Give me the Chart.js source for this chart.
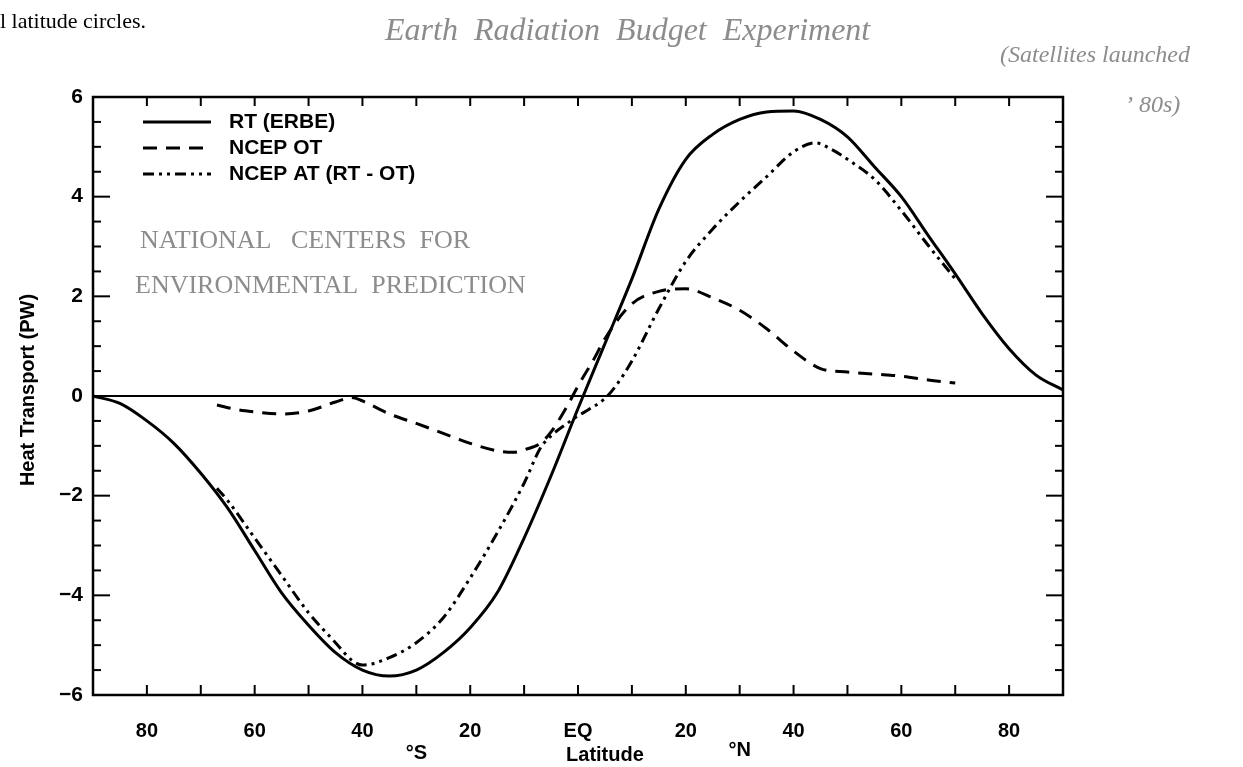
<!DOCTYPE html>
<html>
<head>
<meta charset="utf-8">
<script src="https://cdn.jsdelivr.net/npm/chart.js@4.4.0/dist/chart.umd.min.js"></script>
<style>
  html, body { margin: 0; padding: 0; background: #fff; }
</style>
</head>
<body>
<canvas id="grafica" width="1243" height="767"></canvas>
<script>
// Latitud (grados, S negativo) y transporte de calor (PW)
const latRT = [-90,-85,-80,-75,-70,-65,-60,-55,-50,-45,-40,-35,-30,-25,-20,-15,-10,-5,0,5,10,15,20,25,30,35,40,45,50,55,60,65,70,75,80,85,90];
const valRT = [0.0,-0.15,-0.5,-0.95,-1.55,-2.25,-3.1,-3.95,-4.6,-5.15,-5.5,-5.62,-5.5,-5.15,-4.65,-3.95,-2.85,-1.6,-0.25,1.05,2.35,3.75,4.75,5.25,5.55,5.7,5.72,5.55,5.2,4.6,4.0,3.22,2.45,1.65,0.95,0.42,0.12];

const latOT = [-67,-63,-60,-55,-50,-45,-42,-40,-35,-30,-25,-20,-15,-12,-10,-7,-5,-2,0,3,5,10,15,20,25,30,35,40,45,50,55,60,65,70];
const valOT = [-0.18,-0.28,-0.32,-0.36,-0.3,-0.12,-0.03,-0.1,-0.36,-0.55,-0.75,-0.95,-1.1,-1.13,-1.08,-0.95,-0.72,-0.2,0.2,0.75,1.15,1.85,2.1,2.15,1.97,1.72,1.35,0.9,0.55,0.48,0.44,0.4,0.32,0.26];

const latAT = [-67,-65,-60,-55,-50,-45,-42,-40,-35,-30,-25,-20,-15,-10,-7,-5,-2,0,2,5,7,10,15,20,25,30,35,40,44,47,50,55,60,65,70];
const valAT = [-1.85,-2.1,-2.85,-3.6,-4.35,-4.95,-5.3,-5.4,-5.25,-4.95,-4.45,-3.65,-2.75,-1.75,-1.05,-0.8,-0.55,-0.4,-0.27,-0.05,0.2,0.7,1.75,2.7,3.35,3.9,4.4,4.9,5.08,4.95,4.75,4.35,3.72,3.02,2.35];

const latTicks = [-80,-60,-40,-20,0,20,40,60,80];
const latTickLabels = ['80','60','40','20','EQ','20','40','60','80'];
const yTicks = [-6,-4,-2,0,2,4,6];
const yTickLabels = ['\u22126','\u22124','\u22122','0','2','4','6'];
const nombresSeries = ['RT (ERBE)', 'NCEP OT', 'NCEP AT (RT - OT)'];

const fuente = "'Liberation Sans', Arial, sans-serif";
const fuenteMano = "'Liberation Serif', serif";

const puntos = (lats, vals) => lats.map((la, i) => ({ x: la, y: vals[i] }));

// Marco, linea del cero y ticks hacia dentro
const marcoPlot = {
  id: 'marcoPlot',
  afterDatasetsDraw(chart) {
    const { ctx, chartArea: a, scales: { x, y } } = chart;
    const linea = (x1, y1, x2, y2) => { ctx.beginPath(); ctx.moveTo(x1, y1); ctx.lineTo(x2, y2); ctx.stroke(); };
    ctx.save();
    ctx.strokeStyle = '#000';
    ctx.lineWidth = 2;
    linea(a.left, y.getPixelForValue(0), a.right, y.getPixelForValue(0));

    for (let v = -80; v <= 80; v += 10) {
      const px = x.getPixelForValue(v);
      linea(px, a.bottom, px, a.bottom - 10);
      linea(px, a.top, px, a.top + 9);
    }
    for (let v = -5.5; v <= 5.5; v += 0.5) {
      const py = y.getPixelForValue(v);
      const largo = v % 2 === 0 ? 17 : 8;
      linea(a.left, py, a.left + largo, py);
      linea(a.right, py, a.right - largo, py);
    }
    ctx.lineWidth = 2.5;
    ctx.strokeRect(a.left, a.top, a.right - a.left, a.bottom - a.top);
    ctx.restore();
  }
};

// Leyenda dentro del area y textos sueltos
const textosExtra = {
  id: 'textosExtra',
  afterDraw(chart) {
    const { ctx, chartArea: a, scales: { x } } = chart;
    ctx.save();
    ctx.fillStyle = '#000';
    ctx.strokeStyle = '#000';

    // leyenda
    chart.data.datasets.forEach((ds, i) => {
      const yy = a.top + 25 + i * 26;
      ctx.lineWidth = 3;
      ctx.setLineDash(ds.borderDash || []);
      ctx.beginPath(); ctx.moveTo(a.left + 50, yy); ctx.lineTo(a.left + 118, yy); ctx.stroke();
      ctx.setLineDash([]);
      ctx.font = `bold 21px ${fuente}`;
      ctx.textBaseline = 'middle';
      ctx.textAlign = 'left';
      ctx.fillText(nombresSeries[i], a.left + 136, yy);
    });

    // titulos de ejes
    ctx.font = `bold 20px ${fuente}`;
    ctx.textAlign = 'center';
    ctx.textBaseline = 'middle';
    ctx.fillText('Latitude', x.getPixelForValue(5), 755);
    ctx.fillText('\u00B0S', x.getPixelForValue(-30), 753);
    ctx.fillText('\u00B0N', x.getPixelForValue(30), 750);
    ctx.save();
    ctx.translate(28, 390);
    ctx.rotate(-Math.PI / 2);
    ctx.fillText('Heat Transport (PW)', 0, 0);
    ctx.restore();

    // leyenda impresa de la pagina
    ctx.font = `22px ${fuenteMano}`;
    ctx.textAlign = 'left';
    ctx.textBaseline = 'alphabetic';
    ctx.fillText('l latitude circles.', 0, 28);

    // anotaciones a mano
    ctx.fillStyle = '#8c8c8c';
    ctx.font = `italic 32px ${fuenteMano}`;
    ctx.fillText('Earth  Radiation  Budget  Experiment', 385, 40);
    ctx.font = `italic 24px ${fuenteMano}`;
    ctx.fillText('(Satellites launched', 1000, 62);
    ctx.fillText('\u2019 80s)', 1125, 112);
    ctx.font = `26px ${fuenteMano}`;
    ctx.fillText('NATIONAL   CENTERS  FOR', 140, 248);
    ctx.fillText('ENVIRONMENTAL  PREDICTION', 135, 293);
    ctx.restore();
  }
};

new Chart(document.getElementById('grafica'), {
  type: 'line',
  data: {
    datasets: [
      { label: nombresSeries[0], data: puntos(latRT, valRT), borderColor: '#000', borderWidth: 3 },
      { label: nombresSeries[1], data: puntos(latOT, valOT), borderColor: '#000', borderWidth: 3, borderDash: [14, 9] },
      { label: nombresSeries[2], data: puntos(latAT, valAT), borderColor: '#000', borderWidth: 3, borderDash: [11, 5, 3, 5, 3, 5] }
    ]
  },
  options: {
    responsive: false,
    animation: false,
    devicePixelRatio: 1,
    parsing: false,
    elements: {
      point: { radius: 0 },
      line: { cubicInterpolationMode: 'monotone', fill: false }
    },
    layout: { padding: { top: 97, right: 180, left: 0, bottom: 0 } },
    plugins: { legend: { display: false }, tooltip: { enabled: false } },
    scales: {
      x: {
        type: 'linear', min: -90, max: 90,
        afterBuildTicks: s => { s.ticks = latTicks.map(v => ({ value: v })); },
        afterFit: s => { s.height = 72; },
        grid: { display: false, drawTicks: false },
        border: { display: false },
        ticks: {
          padding: 24, color: '#000', maxRotation: 0, autoSkip: false,
          font: { family: fuente, weight: 'bold', size: 20 },
          callback: v => latTickLabels[latTicks.indexOf(v)]
        }
      },
      y: {
        type: 'linear', min: -6, max: 6,
        afterBuildTicks: s => { s.ticks = yTicks.map(v => ({ value: v })); },
        afterFit: s => { s.width = 93; },
        grid: { display: false, drawTicks: false },
        border: { display: false },
        ticks: {
          padding: 10, color: '#000',
          font: { family: fuente, weight: 'bold', size: 21 },
          callback: v => yTickLabels[yTicks.indexOf(v)]
        }
      }
    }
  },
  plugins: [marcoPlot, textosExtra]
});
</script>
</body>
</html>
